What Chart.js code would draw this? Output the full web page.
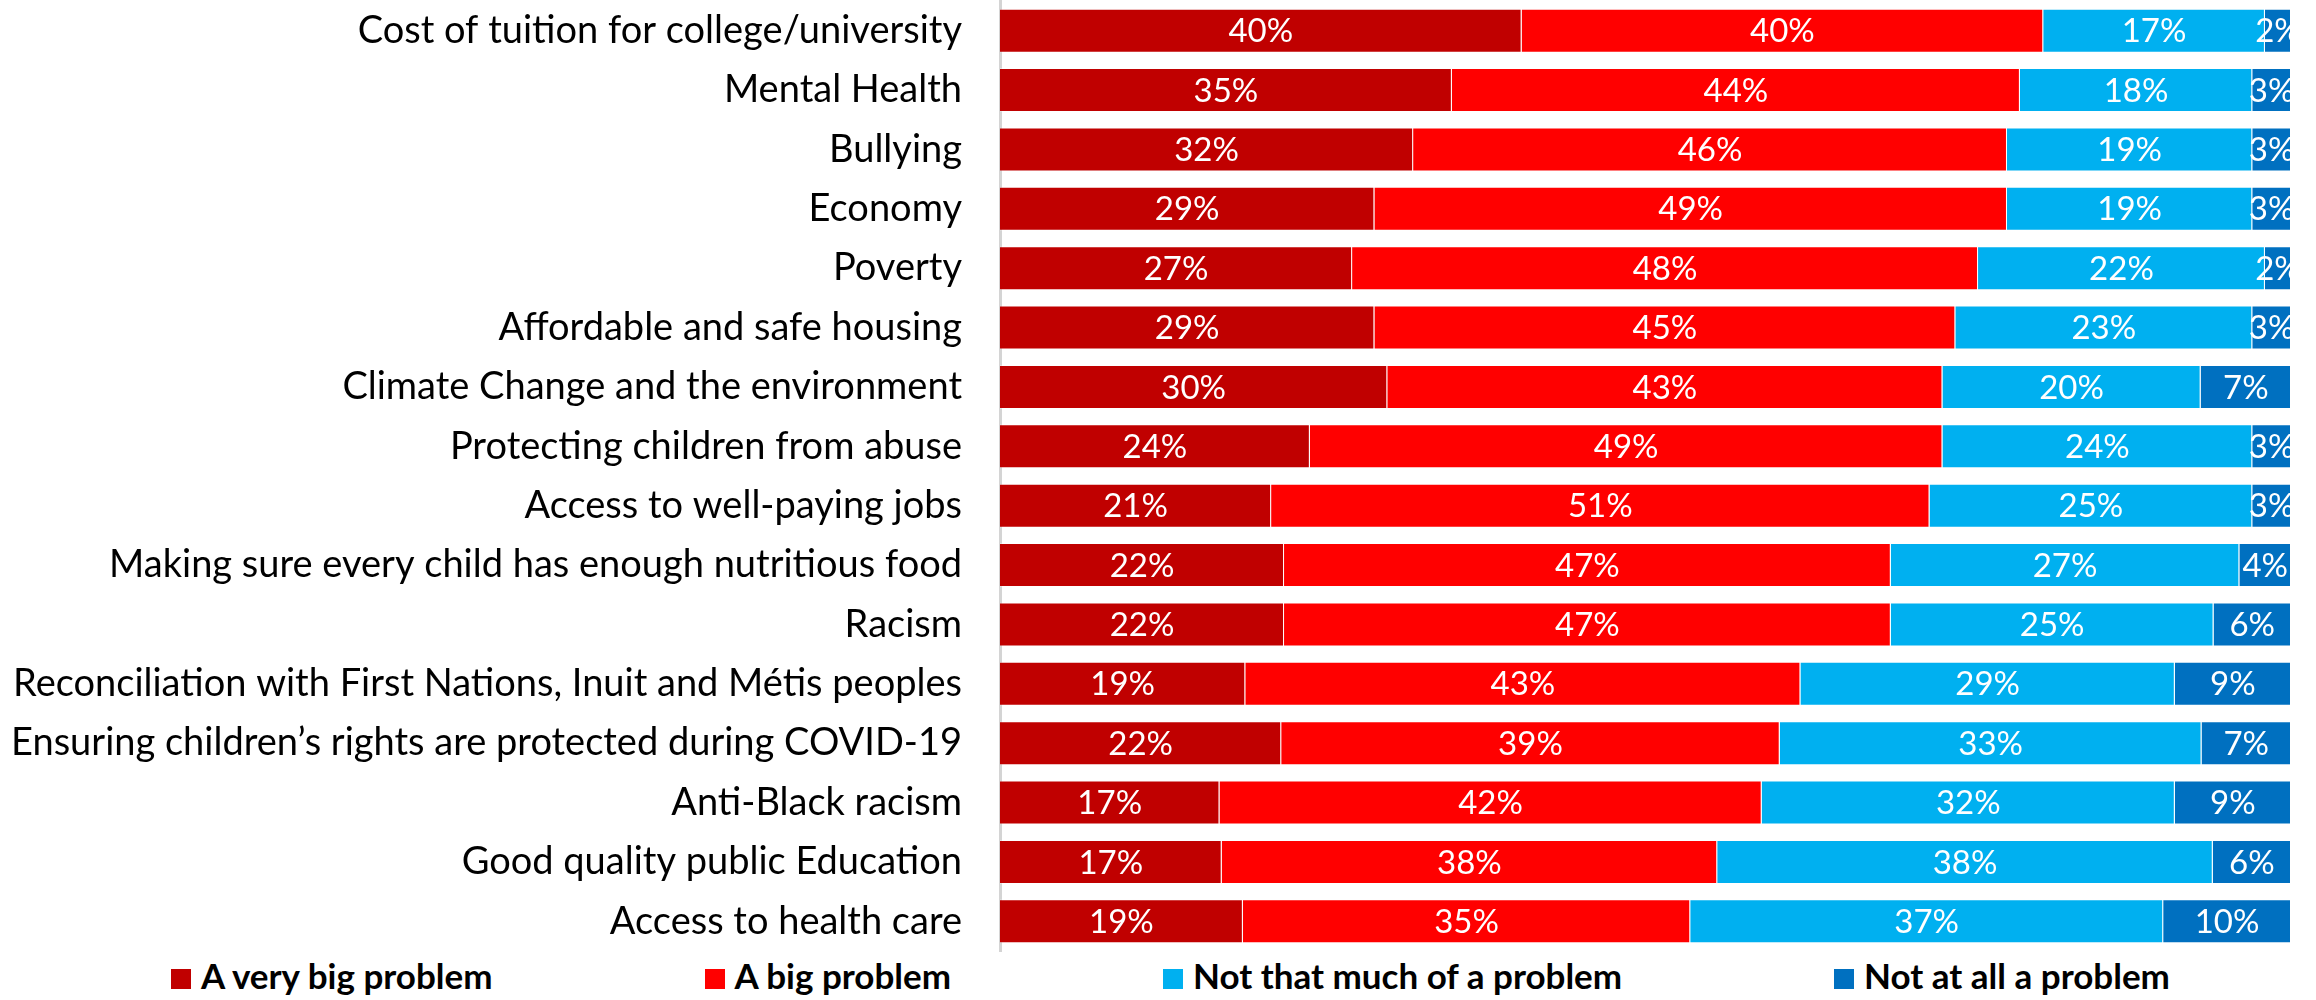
<!DOCTYPE html>
<html>
<head>
<meta charset="utf-8">
<script src="https://cdn.jsdelivr.net/npm/chart.js@4.4.1/dist/chart.umd.min.js"></script>
<style>
  body { margin: 0; background: #fff; width: 2316px; height: 1000px; overflow: hidden; font-family: Lato, sans-serif; }
  #wrap { position: relative; width: 2316px; height: 955px; }
  #legend { display: flex; justify-content: center; gap: 212px; height: 45px; align-items: baseline; padding-left: 25px; line-height: 40px; }
  .item { font-weight: bold; font-size: 35px; color: #000; white-space: nowrap; }
  .box { display: inline-block; width: 20px; height: 20px; margin-right: 10px; vertical-align: baseline; }
</style>
</head>
<body>
<div id="wrap"><canvas id="chart-canvas"></canvas></div>
<div id="legend"></div>
<script>
const categories = [
  "Cost of tuition for college/university",
  "Mental Health",
  "Bullying",
  "Economy",
  "Poverty",
  "Affordable and safe housing",
  "Climate Change and the environment",
  "Protecting children from abuse",
  "Access to well-paying jobs",
  "Making sure every child has enough nutritious food",
  "Racism",
  "Reconciliation with First Nations, Inuit and Métis peoples",
  "Ensuring children’s rights are protected during COVID-19",
  "Anti-Black racism",
  "Good quality public Education",
  "Access to health care"
];

const veryBig = [40, 35, 32, 29, 27, 29, 30, 24, 21, 22, 22, 19, 22, 17, 17, 19];
const big = [40, 44, 46, 49, 48, 45, 43, 49, 51, 47, 47, 43, 39, 42, 38, 35];
const notMuch = [17, 18, 19, 19, 22, 23, 20, 24, 25, 27, 25, 29, 33, 32, 38, 37];
const notAtAll = [2, 3, 3, 3, 2, 3, 7, 3, 3, 4, 6, 9, 7, 9, 6, 10];

const seriesNames = ["A very big problem", "A big problem", "Not that much of a problem", "Not at all a problem"];
const seriesColors = ["#C00000", "#FF0000", "#00B0F0", "#0070C0"];
const seriesValues = [veryBig, big, notMuch, notAtAll];

// 100% stacked: each row scaled by its own total
const rowTotals = categories.map((c, j) => seriesValues.reduce((s, arr) => s + arr[j], 0));

const barLabels = {
  id: "barLabels",
  afterDatasetsDraw(chart) {
    const ctx = chart.ctx;
    const a = chart.chartArea;
    ctx.save();
    ctx.beginPath();
    ctx.rect(a.left, a.top, a.right - a.left, a.bottom - a.top);
    ctx.clip();
    ctx.font = "33px Lato";
    ctx.fillStyle = "#fff";
    ctx.textAlign = "center";
    ctx.textBaseline = "middle";
    chart.data.datasets.forEach((ds, i) => {
      chart.getDatasetMeta(i).data.forEach((bar, j) => {
        ctx.fillText(seriesValues[i][j] + "%", (bar.x + bar.base) / 2, bar.y + 1);
      });
    });
    ctx.restore();
  }
};

const ctx = document.getElementById("chart-canvas").getContext("2d");
const chart = new Chart(ctx, {
  type: "bar",
  data: {
    labels: categories,
    datasets: seriesNames.map((name, i) => ({
      label: name,
      data: seriesValues[i].map((v, j) => (v / rowTotals[j]) * 100),
      backgroundColor: seriesColors[i],
      borderColor: "rgba(255,255,255,0.35)",
      borderWidth: 1,
      categoryPercentage: 1,
      barPercentage: 0.74
    }))
  },
  options: {
    indexAxis: "y",
    responsive: true,
    maintainAspectRatio: false,
    animation: false,
    layout: { padding: { top: 1, right: 25, bottom: 4, left: 0 } },
    plugins: {
      legend: { display: false },
      tooltip: { enabled: false }
    },
    scales: {
      x: {
        stacked: true,
        min: 0,
        max: 100,
        display: false
      },
      y: {
        stacked: true,
        grid: { display: false, drawTicks: false },
        border: { display: true, color: "#D4D4D4", width: 3 },
        ticks: {
          color: "#000",
          padding: 38,
          font: { family: "Lato", size: 38 }
        },
        afterFit: (scale) => {
          scale.width = 1000;
          scale.paddingTop = 0;
          scale.paddingBottom = 0;
        }
      }
    }
  },
  plugins: [barLabels]
});

// legend
const legendDiv = document.getElementById("legend");
seriesNames.forEach((name, i) => {
  const item = document.createElement("div");
  item.className = "item";
  item.innerHTML = '<span class="box" style="background:' + seriesColors[i] + '"></span>' + name;
  legendDiv.appendChild(item);
});
</script>
</body>
</html>
